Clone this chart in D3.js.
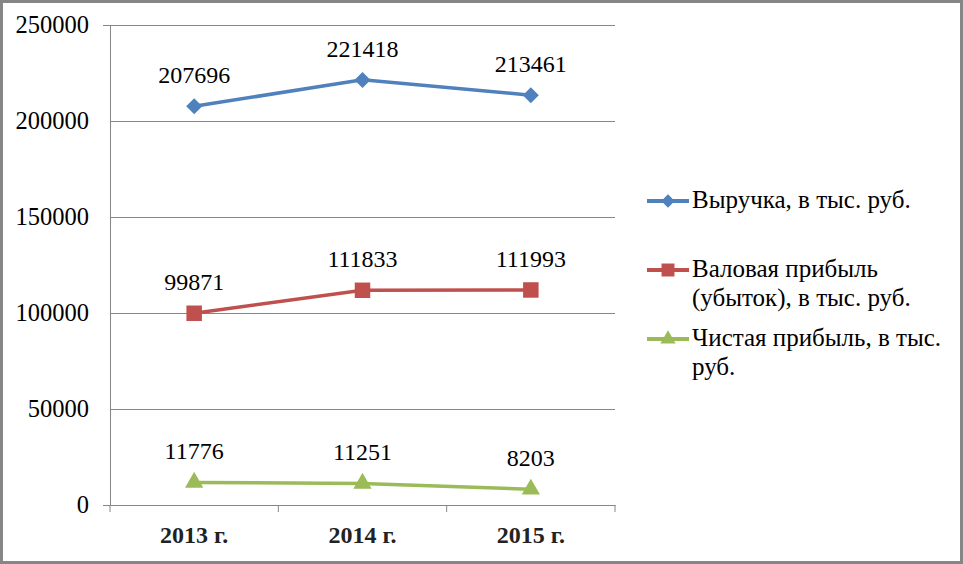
<!DOCTYPE html>
<html>
<head>
<meta charset="utf-8">
<script src="https://cdn.jsdelivr.net/npm/d3@7"></script>
</head>
<body style="margin:0;background:#fff">
<svg id="chart" width="963" height="564"></svg>
<script>
// chart data
const years = ["2013 г.", "2014 г.", "2015 г."];
const revenue = [207696, 221418, 213461];
const grossProfit = [99871, 111833, 111993];
const netProfit = [11776, 11251, 8203];
const yTicks = [0, 50000, 100000, 150000, 200000, 250000];

const FONT = "'Liberation Serif', 'Times New Roman', serif";

// square-ish diamond like the office marker
const diamond = {
  draw(ctx, size) {
    const r = Math.sqrt(size / 2);
    ctx.moveTo(0, -r); ctx.lineTo(r, 0); ctx.lineTo(0, r); ctx.lineTo(-r, 0); ctx.closePath();
  }
};

const series = [
  { name: ["Выручка, в тыс. руб."], values: revenue, color: "#4F81BD", marker: diamond, size: 128, ly: 201 },
  { name: ["Валовая прибыль", "(убыток), в тыс. руб."], values: grossProfit, color: "#C0504D", marker: d3.symbolSquare, size: 240, ly: 270 },
  { name: ["Чистая прибыль, в тыс.", "руб."], values: netProfit, color: "#9BBB59", marker: d3.symbolTriangle, size: 145, ly: 339 }
];

const svg = d3.select("#chart");
const plotL = 110, plotR = 615, plotT = 25, plotB = 505;

// outer frame
svg.append("rect")
    .attr("x", 1.5).attr("y", 1.5)
    .attr("width", 960).attr("height", 561)
    .attr("fill", "#fff")
    .attr("stroke", "#868686")
    .attr("stroke-width", 3);

const x = d3.scaleBand().domain(years).range([plotL, plotR]);
const y = d3.scaleLinear().domain([0, 250000]).range([plotB, plotT]);

// gridlines + y axis
const yAxis = svg.append("g")
    .attr("transform", `translate(${plotL},0)`)
    .call(d3.axisLeft(y).tickValues(yTicks).tickSize(7).tickPadding(14).tickFormat(d3.format("d")));
yAxis.select(".domain").attr("stroke", "#868686");
yAxis.selectAll(".tick line").attr("stroke", "#868686").attr("x2", plotR - plotL);
yAxis.selectAll(".tick text")
    .style("font-family", FONT)
    .style("font-size", "24.5px")
    .attr("fill", "#000");

// x axis
const xAxis = svg.append("g")
    .attr("transform", `translate(0,${plotB})`)
    .call(d3.axisBottom(x).tickSize(0).tickPadding(21));
xAxis.select(".domain").attr("stroke", "#868686");
xAxis.selectAll(".tick text")
    .style("font-family", FONT)
    .style("font-size", "24px")
    .style("font-weight", "bold")
    .attr("fill", "#222");
// category boundary ticks
xAxis.selectAll(".bound")
    .data(d3.range(years.length + 1))
    .enter().append("line")
    .attr("x1", i => plotL + i * x.step())
    .attr("x2", i => plotL + i * x.step())
    .attr("y1", 0).attr("y2", 7)
    .attr("stroke", "#868686");

const cx = d => x(d) + x.bandwidth() / 2;
const line = d3.line()
    .x((d, i) => cx(years[i]))
    .y(d => y(d));

series.forEach(s => {
  const g = svg.append("g");
  g.append("path")
      .datum(s.values)
      .attr("d", line)
      .attr("fill", "none")
      .attr("stroke", s.color)
      .attr("stroke-width", 3.5);
  g.selectAll(".mark")
      .data(s.values)
      .enter().append("path")
      .attr("d", d3.symbol().type(s.marker).size(s.size))
      .attr("transform", (d, i) => `translate(${cx(years[i])},${y(d)})`)
      .attr("fill", s.color);
  g.selectAll(".lbl")
      .data(s.values)
      .enter().append("text")
      .attr("x", (d, i) => cx(years[i]))
      .attr("y", d => y(d) - 23)
      .attr("text-anchor", "middle")
      .style("font-family", FONT)
      .style("font-size", "24px")
      .text(d => d);

  // legend
  const lg = svg.append("g").attr("transform", `translate(647,${s.ly})`);
  lg.append("line")
      .attr("x1", 0).attr("x2", 42)
      .attr("stroke", s.color).attr("stroke-width", 4);
  lg.append("path")
      .attr("d", d3.symbol().type(s.marker).size(s.size * 0.7))
      .attr("transform", "translate(21,0)")
      .attr("fill", s.color);
  s.name.forEach((t, i) => {
    lg.append("text")
        .attr("x", 45)
        .attr("y", 7 + i * 29)
        .style("font-family", FONT)
        .style("font-size", "25px")
        .text(t);
  });
});
</script>
</body>
</html>
